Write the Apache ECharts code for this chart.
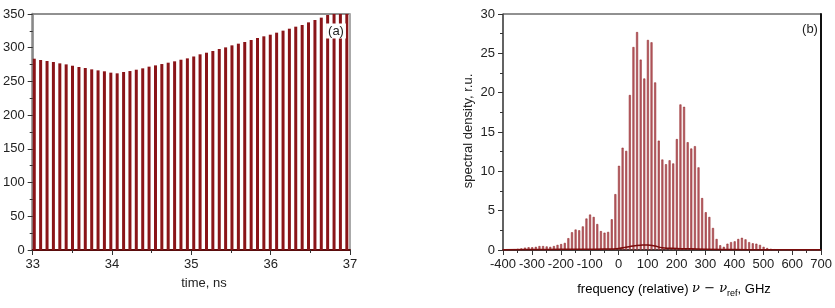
<!DOCTYPE html>
<html>
<head>
<meta charset="utf-8">
<script src="https://cdn.jsdelivr.net/npm/echarts@6/dist/echarts.min.js"></script>
<style>
  html, body { margin: 0; padding: 0; background: #fff; }
  #chart { width: 835px; height: 308px; }
</style>
</head>
<body>
<div id="chart"></div>
<script>
// (a) pulse train: peak times (ns) and peak heights
const pulseTimes = [
  33.020, 33.100, 33.181, 33.261, 33.342, 33.422, 33.502, 33.583, 33.663, 33.744,
  33.824, 33.904, 33.985, 34.065, 34.146, 34.226, 34.306, 34.387, 34.467, 34.548,
  34.628, 34.708, 34.789, 34.869, 34.950, 35.030, 35.110, 35.191, 35.271, 35.352,
  35.432, 35.512, 35.593, 35.673, 35.754, 35.834, 35.914, 35.995, 36.075, 36.156,
  36.236, 36.316, 36.397, 36.477, 36.558, 36.638, 36.718, 36.799, 36.879, 36.960
];
const pulsePeaks = [
  283.7, 281.8, 280.3, 278.8, 276.8, 275.3, 273.3, 271.4, 269.9, 267.9,
  266.4, 265.0, 263.0, 262.0, 264.0, 265.4, 267.4, 269.4, 271.9, 273.8,
  275.8, 277.8, 279.8, 282.2, 284.2, 287.0, 290.2, 292.6, 295.1, 298.1,
  300.5, 303.5, 306.0, 308.5, 311.4, 314.4, 316.9, 319.3, 322.3, 325.3,
  328.2, 331.2, 333.7, 337.6, 341.1, 344.6, 348.5, 355.0, 360.0, 365.0
];

// (b) spectrum: line frequencies (GHz, relative) and spectral density
const freqs = [
  -399, -386.5, -374, -361.5, -349, -336.5, -324, -311.5, -299, -286.5,
  -274, -261.5, -249, -236.5, -224, -211.5, -199, -186.5, -174, -161.5,
  -149, -136.5, -124, -111.5, -99, -86.5, -74, -61.5, -49, -36.5,
  -24, -11.5, 1, 13.5, 26, 38.5, 51, 63.5, 76, 88.5,
  101, 113.5, 126, 138.5, 151, 163.5, 176, 188.5, 201, 213.5,
  226, 238.5, 251, 263.5, 276, 288.5, 301, 313.5, 326, 338.5,
  351, 363.5, 376, 388.5, 401, 413.5, 426, 438.5, 451, 463.5,
  476, 488.5, 501, 513.5, 526, 538.5, 551, 563.5, 576, 588.5,
  601, 613.5, 626, 638.5, 651, 663.5, 676, 688.5
];
const spectrum = [
  0.05, 0.05, 0.08, 0.1, 0.15, 0.2, 0.3, 0.35, 0.35, 0.4,
  0.5, 0.5, 0.45, 0.4, 0.5, 0.65, 0.75, 0.9, 1.5, 2.25,
  2.6, 2.5, 3.0, 4.0, 4.5, 4.2, 3.3, 2.4, 2.2, 2.3,
  3.9, 7.1, 10.7, 13.0, 12.6, 19.7, 25.8, 27.7, 24.2, 21.8,
  26.7, 26.4, 21.3, 13.9, 11.5, 10.9, 11.4, 11.0, 14.1, 18.5,
  18.2, 13.7, 12.9, 13.2, 10.5, 6.6, 4.8, 4.2, 2.8, 1.4,
  0.6, 0.4, 0.8, 1.0, 1.1, 1.4, 1.55, 1.35, 1.0, 0.85,
  0.8, 0.65, 0.4, 0.25, 0.15, 0.1, 0.08, 0.06, 0.05, 0.05,
  0.04, 0.04, 0.03, 0.03, 0.03, 0.02, 0.02, 0.02
];

// (b) smooth background under the lines
const envFreqs = [-400, -300, -200, -100, -50, 0, 25, 50, 75, 100, 125, 150, 200, 250, 300, 400, 500, 700];
const envValues = [0.02, 0.05, 0.08, 0.1, 0.12, 0.2, 0.35, 0.5, 0.6, 0.65, 0.5, 0.3, 0.2, 0.15, 0.1, 0.05, 0.03, 0.02];

const font = '"Liberation Sans", Arial, sans-serif';
const labelStyle = { color: '#222', fontSize: 13, fontFamily: font, margin: 8 };
const tick = { length: 5, lineStyle: { color: '#333' } };
const minor = { show: true, splitNumber: 2, length: 3, lineStyle: { color: '#333' } };

const chart = echarts.init(document.getElementById('chart'));

chart.setOption({
  animation: false,
  grid: [
    { left: 29, top: 14, width: 321, height: 236, show: true, borderColor: '#222', borderWidth: 1 },
    { left: 503, top: 14, width: 322, height: 236, show: true, borderColor: '#222', borderWidth: 1 }
  ],
  xAxis: [
    {
      gridIndex: 0, type: 'value', min: 33, max: 37, interval: 1,
      axisLine: { onZero: false, lineStyle: { color: '#5a0c0c', width: 2 } },
      axisTick: tick, minorTick: minor, axisLabel: labelStyle,
      splitLine: { show: false }
    },
    {
      gridIndex: 1, type: 'value', min: -400, max: 700, interval: 100,
      axisLine: { onZero: false, lineStyle: { color: '#222', width: 1.5 } },
      axisTick: tick, minorTick: minor, axisLabel: labelStyle,
      splitLine: { show: false }
    }
  ],
  yAxis: [
    {
      gridIndex: 0, type: 'value', min: 0, max: 350, interval: 50,
      axisLine: { show: true, onZero: false, lineStyle: { color: '#888', width: 2.5 } },
      axisTick: { show: true, ...tick }, minorTick: minor, axisLabel: labelStyle,
      splitLine: { show: false }
    },
    {
      gridIndex: 1, type: 'value', min: 0, max: 30, interval: 5,
      axisLine: { show: true, onZero: false, lineStyle: { color: '#555', width: 1.5 } },
      axisTick: { show: true, ...tick }, minorTick: minor, axisLabel: labelStyle,
      splitLine: { show: false }
    },
    {
      gridIndex: 0, type: 'value', position: 'right', min: 0, max: 350,
      axisLine: { show: true, onZero: false, lineStyle: { color: '#aaa', width: 2 } },
      axisTick: { show: false }, axisLabel: { show: false }, splitLine: { show: false }
    },
    {
      gridIndex: 1, type: 'value', position: 'right', min: 0, max: 30,
      axisLine: { show: true, onZero: false, lineStyle: { color: '#111', width: 2 } },
      axisTick: { show: false }, axisLabel: { show: false }, splitLine: { show: false }
    }
  ],
  series: [
    {
      type: 'bar', xAxisIndex: 0, yAxisIndex: 0, barWidth: 3, clip: true,
      data: pulseTimes.map((t, i) => [t, pulsePeaks[i]]),
      itemStyle: { color: '#8a1418' }
    },
    {
      type: 'bar', xAxisIndex: 1, yAxisIndex: 1, barWidth: 2, clip: true,
      data: freqs.map((f, i) => [f, spectrum[i]]),
      itemStyle: { color: '#b9626b', borderColor: '#8b1a1a', borderWidth: 0.5 }
    },
    {
      type: 'line', xAxisIndex: 1, yAxisIndex: 1, symbol: 'none', smooth: true,
      data: envFreqs.map((f, i) => [f, envValues[i]]),
      lineStyle: { color: '#7a0c0c', width: 1.5 }
    }
  ],
  graphic: [
    {
      type: 'text', x: 336, y: 31, z: 100,
      style: { text: '(a)', fill: '#222', font: '13px ' + font, align: 'center', verticalAlign: 'middle',
               backgroundColor: '#fff', padding: [1, 2] }
    },
    {
      type: 'text', x: 810, y: 29, z: 100,
      style: { text: '(b)', fill: '#222', font: '13px ' + font, align: 'center', verticalAlign: 'middle' }
    },
    {
      type: 'text', x: 204, y: 283,
      style: { text: 'time, ns', fill: '#222', font: '13px ' + font, align: 'center', verticalAlign: 'middle' }
    },
    {
      type: 'text', x: 468.5, y: 131, rotation: Math.PI / 2,
      style: { text: 'spectral density, r.u.', fill: '#222', font: '13px ' + font, align: 'center', verticalAlign: 'middle' }
    },
    {
      type: 'text', x: 674, y: 289,
      style: {
        text: '{n|frequency (relative) }{i|ν − ν}{s|ref}{n|, GHz}',
        align: 'center', verticalAlign: 'middle',
        rich: {
          n: { fontSize: 13, fontFamily: font, color: '#222', lineHeight: 18, verticalAlign: 'middle' },
          i: { fontSize: 13, fontFamily: 'DejaVu Serif, serif', fontStyle: 'italic', color: '#222', lineHeight: 18, verticalAlign: 'middle' },
          s: { fontSize: 9, fontFamily: font, color: '#222', lineHeight: 18, verticalAlign: 'bottom', padding: [6, 0, 0, 0] }
        }
      }
    }
  ]
});
</script>
</body>
</html>
